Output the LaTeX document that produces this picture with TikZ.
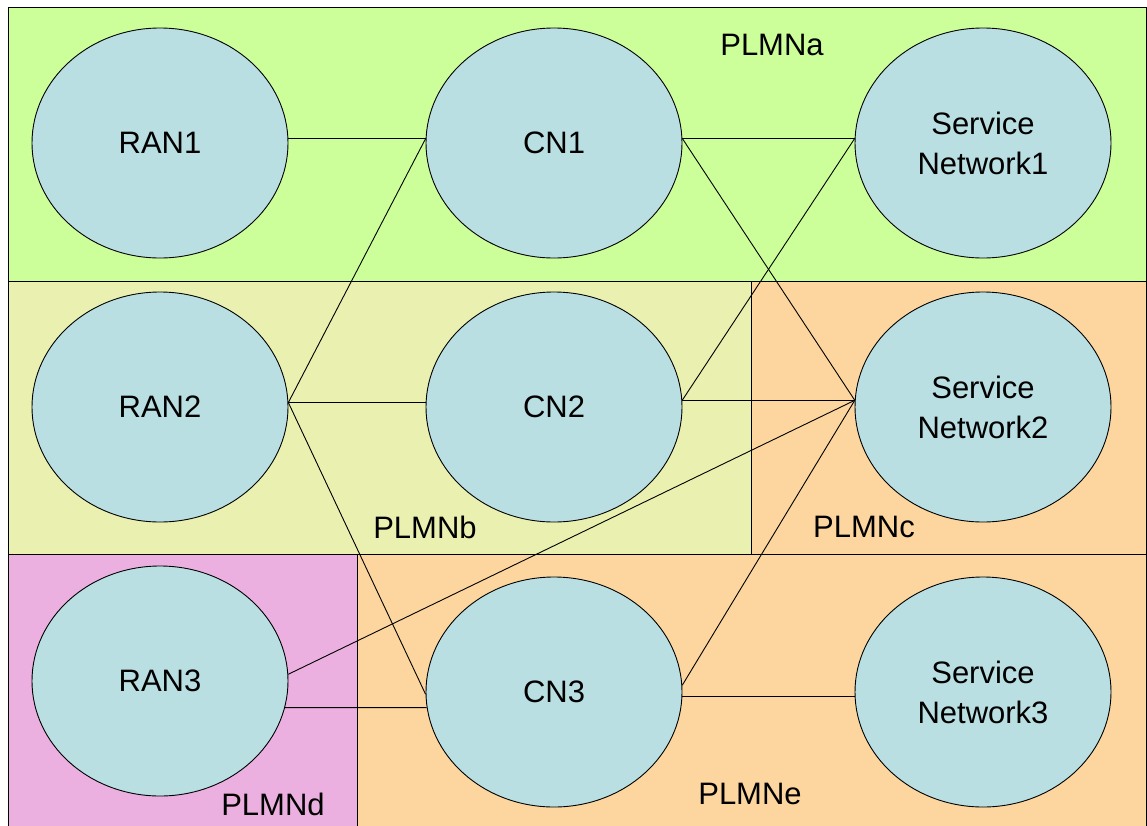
\documentclass[tikz,border=0pt]{standalone}
\usepackage{fontspec}
\setmainfont{Liberation Sans}
\usetikzlibrary{shapes.geometric}
\definecolor{plmnA}{RGB}{204,255,153}
\definecolor{plmnB}{RGB}{234,240,176}
\definecolor{plmnCE}{RGB}{252,214,158}
\definecolor{plmnD}{RGB}{235,176,224}
\definecolor{netblue}{RGB}{185,223,226}
\tikzset{
  region/.style={draw, line width=0.9pt},
  net/.style={ellipse, draw, fill=netblue, line width=0.9pt, inner sep=0pt,
    minimum width=256pt, minimum height=230pt, align=center,
    font=\fontsize{31}{40}\selectfont},
  tag/.style={inner sep=0pt, font=\fontsize{31}{37}\selectfont},
  link/.style={line width=0.9pt}
}
\begin{document}
\begin{tikzpicture}[x=1pt, y=-1pt]
    \useasboundingbox (0,0) rectangle (1147,825);
    \clip (0,0) rectangle (1147,825);
    % PLMN areas
    \draw[region, fill=plmnA] (8,7) rectangle (1146,281);
    \draw[region, fill=plmnB] (8,281) rectangle (751,554);
    \draw[region, fill=plmnCE] (751,281) rectangle (1146,554);
    \draw[region, fill=plmnD] (8,554) rectangle (357,832);
    \draw[region, fill=plmnCE] (357,554) rectangle (1146,832);
    \node[tag] (tagA) at (772,45) {PLMNa};
    \node[tag] (tagB) at (425,527) {PLMNb};
    \node[tag] (tagC) at (864,527) {PLMNc};
    \node[tag] (tagD) at (273,804) {PLMNd};
    \node[tag] (tagE) at (750,794) {PLMNe};
    % networks
    \node[net] (RAN1) at (160,143) {RAN1};
    \node[net] (CN1) at (554,143) {CN1};
    \node[net] (SN1) at (983,143) {Service\\Network1};
    \node[net] (RAN2) at (160,407) {RAN2};
    \node[net] (CN2) at (554,407) {CN2};
    \node[net] (SN2) at (983,407) {Service\\Network2};
    \node[net] (RAN3) at (160,681) {RAN3};
    \node[net] (CN3) at (554,692) {CN3};
    \node[net] (SN3) at (983,692) {Service\\Network3};
    % links
    \draw[link] (RAN1.2) -- (CN1.178);
    \draw[link] (RAN2.2) -- (CN1.178);
    \draw[link] (RAN2.2) -- (CN2.178);
    \draw[link] (RAN2.2) -- (CN3.181);
    \draw[link] (CN1.2) -- (SN1.178);
    \draw[link] (CN1.2) -- (SN2.177);
    \draw[link] (CN2.3) -- (SN1.178);
    \draw[link] (CN2.3) -- (SN2.177);
    \draw[link] (RAN3.3) -- (SN2.177);
    \draw[link] (RAN3.348) -- (CN3.187);
    \draw[link] (CN3.3) -- (SN2.177);
    \draw[link] (CN3.358) -- (SN3.182);
\end{tikzpicture}
\end{document}
